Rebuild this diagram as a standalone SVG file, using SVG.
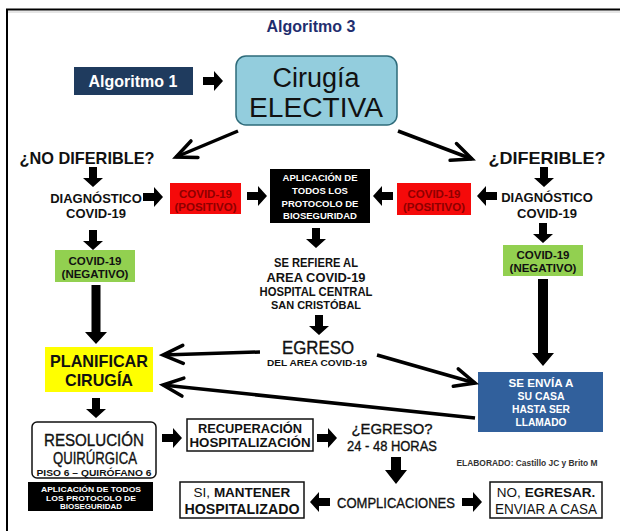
<svg xmlns="http://www.w3.org/2000/svg" width="620" height="531" viewBox="0 0 620 531">
<style>
text{font-family:"Liberation Sans",Arial,sans-serif;text-anchor:middle;fill:#111}
.b{font-weight:bold}
.m{stroke:#111;stroke-width:0.35}
.w{fill:#fff}
.dr{fill:#8e0000}
.box{fill:#fff;stroke:#111;stroke-width:1.5}
.ln{fill:none;stroke:#000;stroke-width:3.5;marker-end:url(#v)}
.blk{fill:#000}
</style>
<defs>
<path id="ba" d="M-10,-4 H1 V-10 L10,0 L1,10 V4 H-10 Z"/>
<marker id="v" markerUnits="userSpaceOnUse" viewBox="-24 -12 28 24" refX="0" refY="0" markerWidth="28" markerHeight="24" orient="auto">
<path d="M-20,-9 L0,0 L-20,9" fill="none" stroke="#000" stroke-width="3.5" stroke-linecap="round"/>
</marker>
</defs>
<rect width="620" height="531" fill="#fff"/>
<g id="frame"><path d="M7,531 V9.5 H620" fill="none" stroke="#000" stroke-width="2"/><path d="M8,12 H620" stroke="#ccc" stroke-width="1"/></g>
<g id="title"><text x="311" y="32" class="b" font-size="16" style="fill:#1f2e6e">Algoritmo 3</text></g>

<g id="alg1"><rect x="74" y="67" width="119" height="28" fill="#1f3b5e"/><text x="133" y="87" class="b w" font-size="16">Algoritmo 1</text></g>
<g id="cirugia"><rect x="236" y="56" width="161" height="69" rx="10" fill="#93cddd" stroke="#2e6b7a" stroke-width="1.5"/>
<text x="316" y="87" font-size="27">Cirugía</text><text x="316" y="117" font-size="27" textLength="134" lengthAdjust="spacingAndGlyphs">ELECTIVA</text></g>
<g id="nodif"><text x="87" y="164" class="b" font-size="17" textLength="135" lengthAdjust="spacingAndGlyphs">¿NO DIFERIBLE?</text></g>
<g id="dif"><text x="547" y="164" class="b" font-size="17" textLength="117" lengthAdjust="spacingAndGlyphs">¿DIFERIBLE?</text></g>

<g id="diag-l"><text x="96" y="203" class="b" font-size="13">DIAGNÓSTICO</text><text x="96" y="218" class="b" font-size="13">COVID-19</text></g>
<g id="diag-r"><text x="547" y="202" class="b" font-size="13">DIAGNÓSTICO</text><text x="547" y="218" class="b" font-size="13">COVID-19</text></g>
<g id="pos-l"><rect x="170" y="183" width="71" height="31" fill="#f50a0a"/><text x="205.5" y="198" class="b dr" font-size="11.5">COVID-19</text><text x="205.5" y="211" class="b dr" font-size="11.5" textLength="62" lengthAdjust="spacingAndGlyphs">(POSITIVO)</text></g>
<g id="pos-r"><rect x="397" y="183" width="74" height="32" fill="#f50a0a"/><text x="434" y="198" class="b dr" font-size="11.5">COVID-19</text><text x="434" y="211" class="b dr" font-size="11.5" textLength="62" lengthAdjust="spacingAndGlyphs">(POSITIVO)</text></g>
<g id="bio-top"><rect x="270" y="169" width="100" height="54" fill="#000"/>
<text x="320" y="181" class="b w" font-size="9.5">APLICACIÓN DE</text><text x="320" y="194" class="b w" font-size="9.5">TODOS LOS</text><text x="320" y="207" class="b w" font-size="9.5">PROTOCOLO DE</text><text x="320" y="219" class="b w" font-size="9.5">BIOSEGURIDAD</text></g>
<g id="neg-l"><rect x="55" y="250" width="80" height="32" fill="#92d050"/><text x="95" y="265" class="b" font-size="11.5">COVID-19</text><text x="95" y="278" class="b" font-size="11.5">(NEGATIVO)</text></g>
<g id="neg-r"><rect x="503" y="245" width="80" height="31" fill="#92d050"/><text x="543" y="259" class="b" font-size="11.5">COVID-19</text><text x="543" y="272" class="b" font-size="11.5">(NEGATIVO)</text></g>
<g id="refiere"><text x="316" y="267" class="b" font-size="12" textLength="84" lengthAdjust="spacingAndGlyphs">SE REFIERE AL</text>
<text x="316" y="282" class="b" font-size="13.5" textLength="99" lengthAdjust="spacingAndGlyphs">AREA COVID-19</text>
<text x="316" y="296" class="b" font-size="12" textLength="113" lengthAdjust="spacingAndGlyphs">HOSPITAL CENTRAL</text>
<text x="316" y="309" class="b" font-size="11.5" textLength="90" lengthAdjust="spacingAndGlyphs">SAN CRISTÓBAL</text></g>
<g id="egreso"><text x="318" y="354" class="m" font-size="17.5" textLength="72" lengthAdjust="spacingAndGlyphs">EGRESO</text><text x="317" y="366" class="b" font-size="8.5" textLength="100" lengthAdjust="spacingAndGlyphs">DEL AREA COVID-19</text></g>
<g id="planificar"><rect x="45" y="347" width="108" height="45" fill="#ffff00"/><text x="99" y="367" class="b" font-size="17" textLength="98" lengthAdjust="spacingAndGlyphs">PLANIFICAR</text><text x="99" y="386" class="b" font-size="17" textLength="68" lengthAdjust="spacingAndGlyphs">CIRUGÍA</text></g>
<g id="casa"><rect x="478" y="372" width="125" height="60" fill="#31609c"/>
<text x="541" y="387" class="b w" font-size="11" textLength="65" lengthAdjust="spacingAndGlyphs">SE ENVÍA A</text>
<text x="541" y="400" class="b w" font-size="11" textLength="47" lengthAdjust="spacingAndGlyphs">SU CASA</text>
<text x="541" y="413" class="b w" font-size="11" textLength="58" lengthAdjust="spacingAndGlyphs">HASTA SER</text>
<text x="541" y="426" class="b w" font-size="11" textLength="51" lengthAdjust="spacingAndGlyphs">LLAMADO</text></g>
<g id="resolucion"><rect x="32" y="422" width="124" height="56" rx="5" class="box"/>
<text x="94" y="446" class="m" font-size="16" textLength="100" lengthAdjust="spacingAndGlyphs">RESOLUCIÓN</text>
<text x="95" y="464" class="m" font-size="16" textLength="84" lengthAdjust="spacingAndGlyphs">QUIRÚRGICA</text>
<text x="94" y="476" class="b" font-size="9.5" textLength="115" lengthAdjust="spacingAndGlyphs">PISO 6 – QUIRÓFANO 6</text></g>
<g id="bio-bottom"><rect x="28" y="482" width="125" height="29" fill="#000"/>
<text x="91" y="492" class="b w" font-size="7.5" textLength="100" lengthAdjust="spacingAndGlyphs">APLICACIÓN DE TODOS</text>
<text x="91" y="500.5" class="b w" font-size="7.5" textLength="90" lengthAdjust="spacingAndGlyphs">LOS PROTOCOLO DE</text>
<text x="91" y="509" class="b w" font-size="7.5" textLength="62" lengthAdjust="spacingAndGlyphs">BIOSEGURIDAD</text></g>
<g id="recuperacion"><rect x="187" y="419" width="126" height="32" class="box"/>
<text x="250" y="433" class="b" font-size="12.5" textLength="104" lengthAdjust="spacingAndGlyphs">RECUPERACIÓN</text>
<text x="250" y="447" class="b" font-size="12.5" textLength="121" lengthAdjust="spacingAndGlyphs">HOSPITALIZACIÓN</text></g>
<g id="egreso2"><text x="392" y="434" class="m" font-size="15.5" textLength="81" lengthAdjust="spacingAndGlyphs">¿EGRESO?</text><text x="392" y="451" class="m" font-size="15.5" textLength="90" lengthAdjust="spacingAndGlyphs">24 - 48 HORAS</text></g>
<g id="elaborado"><text x="527" y="466" class="b" font-size="8.5" textLength="141" lengthAdjust="spacingAndGlyphs" style="fill:#333">ELABORADO: Castillo JC y Brito M</text></g>
<g id="mantener"><rect x="180" y="482" width="124" height="36" class="box"/>
<text x="242" y="497" font-size="13.5">SI, <tspan class="b">MANTENER</tspan></text>
<text x="242" y="514" class="b" font-size="14.5" textLength="115" lengthAdjust="spacingAndGlyphs">HOSPITALIZADO</text></g>
<g id="complicaciones"><text x="396" y="508" class="m" font-size="15" textLength="118" lengthAdjust="spacingAndGlyphs">COMPLICACIONES</text></g>
<g id="enviar"><rect x="490" y="482" width="112" height="36" class="box"/>
<text x="546" y="497" font-size="13.5">NO, <tspan class="b">EGRESAR.</tspan></text>
<text x="546" y="514" font-size="14.5" textLength="102" lengthAdjust="spacingAndGlyphs">ENVIAR A CASA</text></g>

<g id="connectors">
<use href="#ba" class="blk" transform="translate(213,81)"/>
<use href="#ba" class="blk" transform="translate(93,177) rotate(90)"/>
<use href="#ba" class="blk" transform="translate(544,177) rotate(90)"/>
<use href="#ba" class="blk" transform="translate(153,197)"/>
<use href="#ba" class="blk" transform="translate(257,196)"/>
<use href="#ba" class="blk" transform="translate(383,196) rotate(180)"/>
<use href="#ba" class="blk" transform="translate(487,196) rotate(180)"/>
<use href="#ba" class="blk" transform="translate(93,240) rotate(90)"/>
<use href="#ba" class="blk" transform="translate(543,233) rotate(90)"/>
<use href="#ba" class="blk" transform="translate(316,238) rotate(90)"/>
<use href="#ba" class="blk" transform="translate(319,325) rotate(90)"/>
<use href="#ba" class="blk" transform="translate(96,408) rotate(90)"/>
<use href="#ba" class="blk" transform="translate(172,438)"/>
<use href="#ba" class="blk" transform="translate(327,438)"/>
<use href="#ba" class="blk" transform="translate(320,502) rotate(180)"/>
<use href="#ba" class="blk" transform="translate(472,502)"/>
<path class="blk" d="M391,457 H401 V470 H407 L396,484 L385,470 H391 Z"/>
<path class="blk" d="M91.5,285 H100.5 V332 H107 L96,344 L85,332 H91.5 Z"/>
<path class="blk" d="M538,279 H548 V353 H554 L543,366 L532,353 H538 Z"/>
<line class="ln" x1="238" y1="131" x2="176" y2="157"/>
<line class="ln" x1="398" y1="131" x2="472" y2="159"/>
<line class="ln" x1="260" y1="352" x2="163" y2="355"/>
<line class="ln" x1="377" y1="355" x2="475" y2="383"/>
<line class="ln" x1="475" y1="418" x2="163" y2="385"/>
</g>
</svg>
